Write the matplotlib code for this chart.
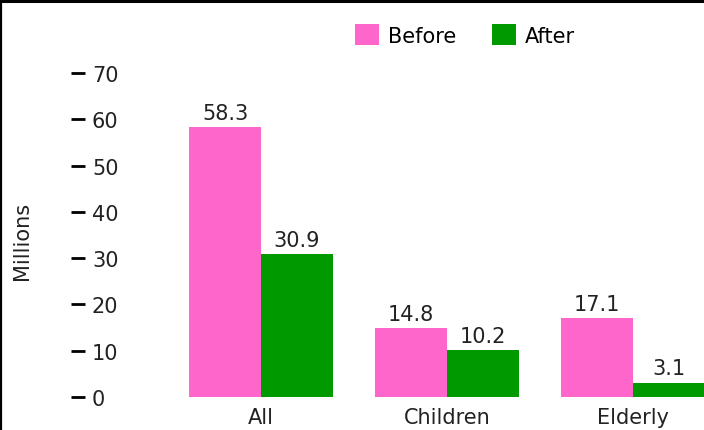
import numpy as np
import matplotlib
matplotlib.use("Agg")
import matplotlib.pyplot as plt
from matplotlib.lines import Line2D

# data
categories = ["All", "Children", "Elderly"]
before = [58.3, 14.8, 17.1]
after = [30.9, 10.2, 3.1]
series_names = ["Before", "After"]
y_ticks = [0, 10, 20, 30, 40, 50, 60, 70]

pink = "#FF66CC"
green = "#009900"
fs = 15

W, H = 704, 431
fig = plt.figure(figsize=(W / 100, H / 100), dpi=100)

# main axes: from x=71px to the right edge, y 0 at 398px, 70 at 74px
left_px, bottom_px, top_px = 71, 398, 74
ax = fig.add_axes([left_px / W, 1 - bottom_px / H, 1 - left_px / W, (bottom_px - top_px) / H])

x = np.arange(len(categories))
bw = 0.387
b1 = ax.bar(x - bw / 2, before, bw, color=pink, label=series_names[0])
b2 = ax.bar(x + bw / 2, after, bw, color=green, label=series_names[1])

for bars in (b1, b2):
    for r in bars:
        ax.annotate(f"{r.get_height():.1f}", (r.get_x() + r.get_width() / 2, r.get_height()),
                    xytext=(0, 3), textcoords="offset points", ha="center", va="bottom",
                    fontsize=fs, color="#222222")

spacing = 186
ax.set_xlim(-(261 - left_px) / spacing, (W - 261) / spacing)
ax.set_ylim(0, 70)
ax.set_xticks(x)
ax.set_xticklabels(categories, fontsize=fs, color="#222222")
ax.tick_params(axis="x", length=0, pad=7)
ax.set_yticks([])
for s in ax.spines.values():
    s.set_visible(False)

# tick axis with dashes to the left of the labels
ax2 = fig.add_axes([left_px / W, 1 - bottom_px / H, 0.0001, (bottom_px - top_px) / H])
ax2.set_ylim(0, 70)
ax2.yaxis.tick_right()
ax2.set_yticks(y_ticks)
ax2.tick_params(axis="y", left=False, labelleft=False, right=True, labelright=True,
                direction="out", length=10, width=2, pad=5, labelsize=fs,
                labelcolor="#222222")
ax2.set_xticks([])
for s in ax2.spines.values():
    s.set_visible(False)
ax2.patch.set_visible(False)

fig.text(22 / W, 1 - 241 / H, "Millions", rotation=90, ha="center", va="center",
         fontsize=fs, color="#222222")

fig.legend(handles=[b1, b2], labels=series_names, loc="center", ncol=2,
           bbox_to_anchor=(465 / W, 1 - 36 / H), frameon=False, fontsize=fs,
           handlelength=1.15, handleheight=1.15, handletextpad=0.45,
           columnspacing=1.7, borderpad=0)

# border at top and left
fig.add_artist(Line2D([0, 1], [1 - 1.5 / H, 1 - 1.5 / H], color="black", lw=2.2,
                      transform=fig.transFigure))
fig.add_artist(Line2D([1 / W, 1 / W], [0, 1], color="black", lw=1.6,
                      transform=fig.transFigure))

fig.savefig("out.png", dpi=100)
